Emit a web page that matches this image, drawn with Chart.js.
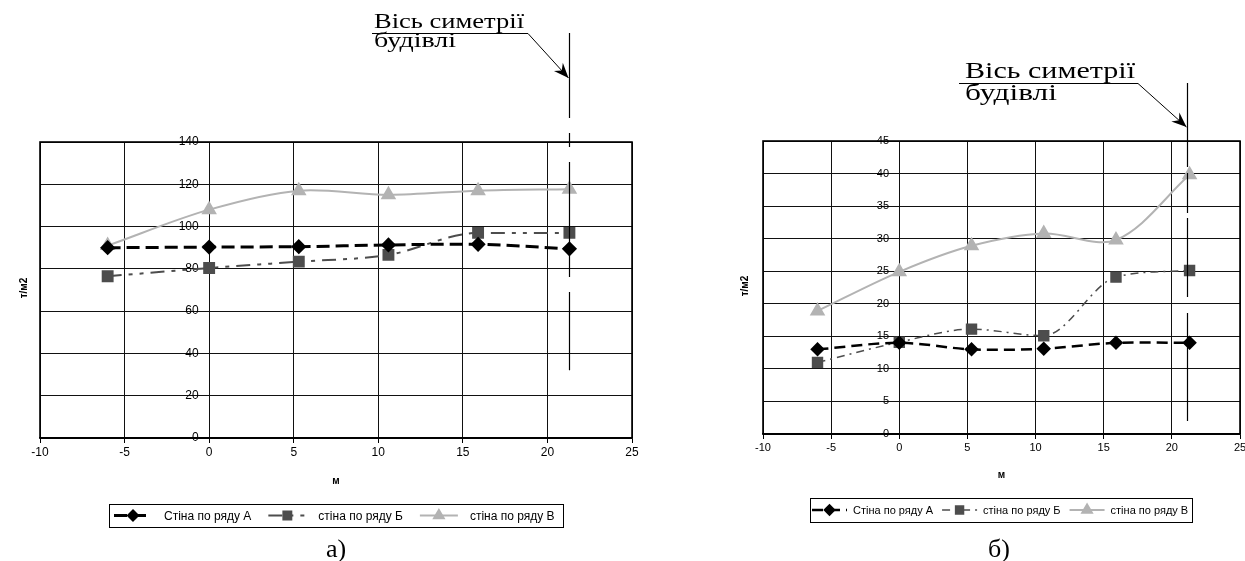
<!DOCTYPE html>
<html lang="uk">
<head>
<meta charset="utf-8">
<title>Навантаження під стінами</title>
<script src="https://cdn.jsdelivr.net/npm/chart.js@4.4.1/dist/chart.umd.min.js"></script>
<style>
  html, body { margin: 0; padding: 0; background: #fff; overflow: hidden; }
  .wrap { position: absolute; top: 0; height: 561px; }
  #wrapA { left: 0; width: 650px; }
  #wrapB { left: 700px; width: 560px; }
</style>
</head>
<body>
<div class="wrap" id="wrapA"><canvas id="chartA" width="650" height="561"></canvas></div>
<div class="wrap" id="wrapB"><canvas id="chartB" width="560" height="561"></canvas></div>
<script>
// відстань від краю будівлі, м (однакова для обох графіків)
const xPositions = [-6, 0, 5.3, 10.6, 15.9, 21.3];
const seriesNames = ['Стіна по ряду А', 'стіна по ряду Б', 'стіна по ряду В'];

// а) т/м2
const aRowA = [90, 90.3, 90.5, 91.3, 91.6, 89.5];
const aRowB = [76.5, 80.4, 83.4, 86.6, 97, 97];
const aRowV = [91, 108, 117, 115, 117, 117.7];

// б) т/м2
const bRowA = [13, 14, 13, 13.1, 14, 14];
const bRowB = [11, 14.1, 16.1, 15.1, 24.1, 25.1];
const bRowV = [18.9, 24.9, 28.9, 30.8, 29.8, 39.8];

const symLabel = ['Вісь симетрії', 'будівлі'];
const captions = ['а)', 'б)'];
const xLabel = 'м';
const yLabel = 'т/м2';

const SANS = '"Liberation Sans", Arial, sans-serif';
const SERIF = '"Liberation Serif", "Times New Roman", serif';

const pts = ys => ys.map((y, i) => ({ x: xPositions[i], y: y }));

function fitText(ctx, text, x, y, width) {
  const w = ctx.measureText(text).width;
  ctx.save();
  ctx.translate(x, y);
  ctx.scale(width / w, 1);
  ctx.fillText(text, 0, 0);
  ctx.restore();
}

// рамка області побудови
const frame = {
  id: 'frame',
  beforeDatasetsDraw(chart) {
    const { ctx, chartArea: a } = chart;
    ctx.save();
    ctx.strokeStyle = '#000';
    ctx.lineWidth = 1.6;
    ctx.strokeRect(a.left, a.top, a.right - a.left, a.bottom - a.top);
    ctx.restore();
  }
};

// вісь симетрії, підписи, легенда
const decor = {
  id: 'decor',
  afterDraw(chart, args, o) {
    const { ctx } = chart;
    const xs = chart.scales.x, ys = chart.scales.y;
    ctx.save();

    // вертикальна лінія
    const lx = Math.round(xs.getPixelForValue(o.symAt)) + 0.5;
    ctx.strokeStyle = '#000';
    ctx.lineWidth = 1.2;
    ctx.setLineDash(o.symDash);
    ctx.beginPath();
    ctx.moveTo(lx, o.symTop);
    ctx.lineTo(lx, ys.getPixelForValue(o.symBottom));
    ctx.stroke();
    ctx.setLineDash([]);

    // текст і виноска
    ctx.fillStyle = '#000';
    ctx.font = o.textSize + 'px ' + SERIF;
    fitText(ctx, symLabel[0], o.textX, o.base1, o.width1);
    fitText(ctx, symLabel[1], o.textX, o.base2, o.width2);
    ctx.lineWidth = 1;
    ctx.beginPath();
    ctx.moveTo(o.leadFrom, o.leadY);
    ctx.lineTo(o.leadTo, o.leadY);
    ctx.lineTo(lx - 1, o.tipY);
    ctx.stroke();
    const ang = Math.atan2(o.tipY - o.leadY, lx - 1 - o.leadTo);
    ctx.save();
    ctx.translate(lx - 1, o.tipY);
    ctx.rotate(ang);
    ctx.beginPath();
    ctx.moveTo(0, 0);
    ctx.lineTo(-15, -6);
    ctx.lineTo(-10, 0);
    ctx.lineTo(-15, 6);
    ctx.closePath();
    ctx.fill();
    ctx.restore();

    // підписи осей
    const a = chart.chartArea;
    ctx.font = 'bold 10px ' + SANS;
    ctx.textAlign = 'center';
    ctx.textBaseline = 'middle';
    ctx.fillText(xLabel, (a.left + a.right) / 2, o.xTitleY);
    ctx.save();
    ctx.translate(o.yTitleX, o.yTitleY);
    ctx.rotate(-Math.PI / 2);
    ctx.fillText(yLabel, 0, 0);
    ctx.restore();

    // легенда
    ctx.font = o.legFont + 'px ' + SANS;
    ctx.textAlign = 'left';
    const items = chart.data.datasets.map(ds => ({ ds, w: ctx.measureText(ds.label).width }));
    let total = o.legPad + o.legPadR;
    items.forEach((it, i) => { total += o.legSample + o.legGap + it.w + (i ? o.legGap2 : 0); });
    let x = Math.round(o.legCx - total / 2);
    const cy = o.legTop + o.legH / 2;
    ctx.strokeStyle = '#000';
    ctx.lineWidth = 1;
    ctx.strokeRect(x + 0.5, o.legTop + 0.5, Math.round(total), o.legH);
    x += o.legPad;
    items.forEach((it, i) => {
      const ds = it.ds;
      if (i) x += o.legGap2;
      ctx.strokeStyle = ds.borderColor;
      ctx.lineWidth = ds.borderWidth;
      ctx.setLineDash(ds.borderDash || []);
      ctx.beginPath();
      ctx.moveTo(x, cy);
      ctx.lineTo(x + o.legSample, cy);
      ctx.stroke();
      ctx.setLineDash([]);
      ctx.fillStyle = ds.pointBackgroundColor;
      ctx.strokeStyle = ds.pointBackgroundColor;
      Chart.helpers.drawPoint(ctx, { pointStyle: ds.pointStyle, radius: ds.pointRadius * 0.8, borderWidth: 1, rotation: 0 }, x + o.legSample / 2, cy);
      x += o.legSample + o.legGap;
      ctx.fillStyle = '#000';
      ctx.fillText(ds.label, x, cy + 1);
      x += it.w;
    });

    // підпис рисунка
    ctx.font = '26px ' + SERIF;
    ctx.textAlign = 'center';
    ctx.textBaseline = 'alphabetic';
    ctx.fillText(o.caption, o.capX, o.capY);
    ctx.restore();
  }
};

function makeChart(id, rows, s) {
  const datasets = [
    {
      label: seriesNames[0], data: pts(rows[0]),
      borderColor: '#000', borderWidth: s.wA, borderDash: s.dashA,
      pointStyle: 'rectRot', pointRadius: 5.5,
      pointBackgroundColor: '#000', pointBorderColor: '#000'
    },
    {
      label: seriesNames[1], data: pts(rows[1]),
      borderColor: '#4d4d4d', borderWidth: s.wB, borderDash: s.dashB,
      cubicInterpolationMode: 'monotone',
      pointStyle: 'rect', pointRadius: 7,
      pointBackgroundColor: '#4d4d4d', pointBorderColor: '#4d4d4d'
    },
    {
      label: seriesNames[2], data: pts(rows[2]),
      borderColor: '#b3b3b3', borderWidth: 2,
      pointStyle: 'triangle', pointRadius: 7,
      pointBackgroundColor: '#b3b3b3', pointBorderColor: '#b3b3b3'
    }
  ];
  return new Chart(document.getElementById(id), {
    type: 'line',
    data: { datasets },
    plugins: [frame, decor],
    options: {
      responsive: false,
      animation: false,
      layout: { padding: s.padding },
      elements: { line: { tension: 0.33, fill: false }, point: { borderWidth: 1 } },
      scales: {
        x: {
          type: 'linear', min: -10, max: 25,
          afterFit(scale) { scale.height = 20; },
          ticks: { stepSize: 5, color: '#000', padding: 2, maxRotation: 0, font: { size: s.font, family: SANS } },
          grid: { color: '#111', lineWidth: 1, tickLength: 5, tickColor: '#000' },
          border: { color: '#000', width: 1.5 }
        },
        y: {
          type: 'linear', min: 0, max: s.yMax,
          // підписи стоять трохи лівіше від лінії x = 0
          position: { x: s.yLabelAt },
          ticks: { stepSize: s.yStep, color: '#000', font: { size: s.font, family: SANS } },
          grid: { color: '#111', lineWidth: 1, drawTicks: false },
          border: { display: false }
        }
      },
      plugins: {
        legend: { display: false },
        tooltip: { enabled: false },
        decor: s.decor
      }
    }
  });
}

makeChart('chartA', [aRowA, aRowB, aRowV], {
  padding: { left: 40, right: 18, top: 142, bottom: 103 },
  font: 12, yMax: 140, yStep: 20, yLabelAt: -0.62,
  wA: 3, dashA: [13, 6], wB: 2, dashB: [14, 7, 4, 7, 4, 7],
  decor: {
    symAt: 21.3, symTop: 33, symBottom: 32, symDash: [85, 15, 14, 15, 115, 15],
    textSize: 20, textX: 374, base1: 28, base2: 47, width1: 150, width2: 82,
    leadFrom: 372, leadTo: 528, leadY: 33.5, tipY: 78,
    xTitleY: 481, yTitleX: 24, yTitleY: 288,
    legFont: 12, legCx: 335.5, legTop: 504, legH: 23,
    legPad: 5, legPadR: 8, legSample: 38, legGap: 12, legGap2: 17,
    caption: captions[0], capX: 336, capY: 557
  }
});

makeChart('chartB', [bRowA, bRowB, bRowV], {
  padding: { left: 63, right: 20, top: 141, bottom: 107 },
  font: 11, yMax: 45, yStep: 5, yLabelAt: -0.75,
  wA: 2.5, dashA: [11, 6], wB: 1.5, dashB: [8, 5, 2, 5],
  decor: {
    symAt: 21.1, symTop: 83, symBottom: 2, symDash: [84, 6, 40, 5, 79, 16, 200],
    textSize: 23, textX: 265, base1: 78, base2: 100, width1: 170, width2: 92,
    leadFrom: 259, leadTo: 438, leadY: 83.5, tipY: 127,
    xTitleY: 475, yTitleX: 45, yTitleY: 286,
    legFont: 11, legCx: 301, legTop: 498, legH: 24,
    legPad: 2, legPadR: 4, legSample: 35, legGap: 6, legGap2: 9,
    caption: captions[1], capX: 299, capY: 557
  }
});
</script>
</body>
</html>
